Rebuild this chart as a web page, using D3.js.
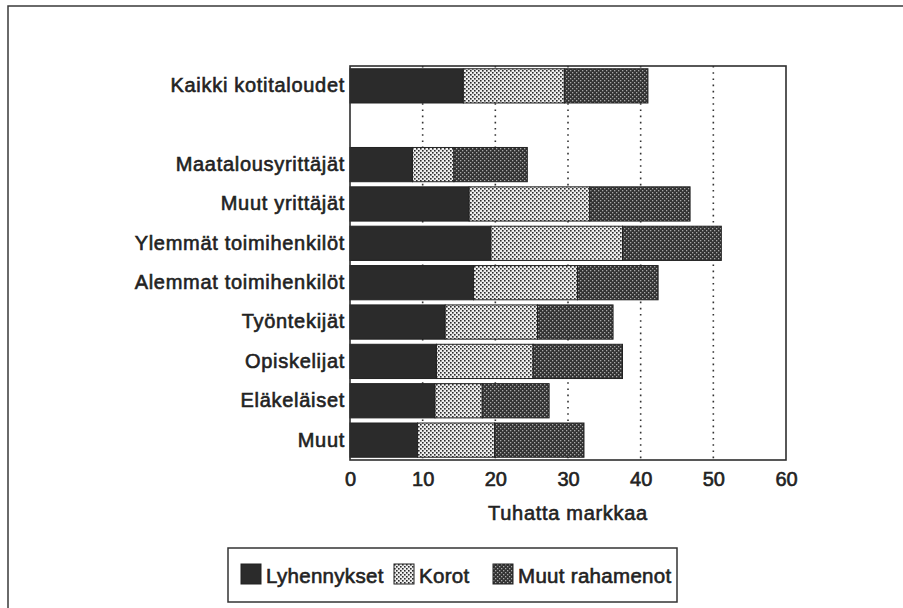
<!DOCTYPE html>
<html>
<head>
<meta charset="utf-8">
<script src="https://cdn.jsdelivr.net/npm/d3@7"></script>
<style>
  body { margin: 0; background: #fff; }
  text { font-family: 'Liberation Sans', Arial, sans-serif; }
</style>
</head>
<body>
<div id="chart"></div>
<script>
// household groups, top to bottom ('' is the blank gap row)
const categories = [
  'Kaikki kotitaloudet', '',
  'Maatalousyrittäjät', 'Muut yrittäjät', 'Ylemmät toimihenkilöt',
  'Alemmat toimihenkilöt', 'Työntekijät', 'Opiskelijat', 'Eläkeläiset', 'Muut'
];
const lyhennykset = [15.6, 0, 8.6, 16.4, 19.4, 17.0, 13.1, 11.9, 11.7, 9.3];
const korot = [13.9, 0, 5.7, 16.6, 18.1, 14.3, 12.7, 13.3, 6.5, 10.6];
const muutRahamenot = [11.5, 0, 10.1, 13.8, 13.6, 11.1, 10.4, 12.3, 9.2, 12.3];
const seriesNames = ['Lyhennykset', 'Korot', 'Muut rahamenot'];
const xTicks = [0, 10, 20, 30, 40, 50, 60];
const gridTicks = [10, 20, 30, 40, 50];
const axisTitle = 'Tuhatta markkaa';

const width = 903, height = 608;
const plot = { left: 350, right: 786, top: 66, bottom: 460 };
const ink = '#222';

const svg = d3.select('#chart').append('svg')
  .attr('width', width)
  .attr('height', height);

// fill patterns
const defs = svg.append('defs');
const pKorot = defs.append('pattern').attr('id', 'p-korot')
  .attr('patternUnits', 'userSpaceOnUse').attr('width', 4).attr('height', 4);
pKorot.append('rect').attr('width', 4).attr('height', 4).attr('fill', '#eeeeee');
pKorot.append('rect').attr('x', 0).attr('y', 0).attr('width', 1.6).attr('height', 1.6).attr('fill', '#2a2a2a');
pKorot.append('rect').attr('x', 2).attr('y', 2).attr('width', 1.6).attr('height', 1.6).attr('fill', '#2a2a2a');

const pMuut = defs.append('pattern').attr('id', 'p-muut')
  .attr('patternUnits', 'userSpaceOnUse').attr('width', 4).attr('height', 4);
pMuut.append('rect').attr('width', 4).attr('height', 4).attr('fill', '#323232');
pMuut.append('rect').attr('x', 0).attr('y', 0).attr('width', 1.3).attr('height', 1.3).attr('fill', '#a8a8a8');
pMuut.append('rect').attr('x', 2).attr('y', 2).attr('width', 1.3).attr('height', 1.3).attr('fill', '#a8a8a8');

const fills = ['#2b2b2b', 'url(#p-korot)', 'url(#p-muut)'];

// bold-ish text helper, the print looks heavier than a regular face
const inkText = sel => sel
  .attr('fill', ink)
  .attr('stroke', ink)
  .attr('stroke-width', 0.6)
  .attr('paint-order', 'stroke');

// outer frame (cropped at right and bottom)
svg.append('path')
  .attr('d', `M8,${height} L8,6 L${width},6`)
  .attr('fill', 'none')
  .attr('stroke', '#3a3a3a')
  .attr('stroke-width', 1.5);

const x = d3.scaleLinear().domain([0, 60]).range([plot.left, plot.right]);
const y = d3.scaleBand().domain(categories)
  .range([plot.top, plot.bottom])
  .paddingInner(0.13)
  .paddingOuter(0.07);

// dotted gridlines
svg.append('g')
  .selectAll('line')
  .data(gridTicks)
  .join('line')
  .attr('x1', d => x(d)).attr('x2', d => x(d))
  .attr('y1', plot.top).attr('y2', plot.bottom)
  .attr('stroke', '#333')
  .attr('stroke-width', 1.6)
  .attr('stroke-dasharray', '1.6,4.6');

// stacked bars
const rows = categories.map((c, i) => ({
  cat: c, Lyhennykset: lyhennykset[i], Korot: korot[i], 'Muut rahamenot': muutRahamenot[i]
})).filter(d => d.cat !== '');
const stacked = d3.stack().keys(seriesNames)(rows);

svg.append('g')
  .selectAll('g')
  .data(stacked)
  .join('g')
  .attr('fill', (d, i) => fills[i])
  .selectAll('rect')
  .data(d => d)
  .join('rect')
  .attr('x', d => x(d[0]))
  .attr('y', d => y(d.data.cat))
  .attr('width', d => x(d[1]) - x(d[0]))
  .attr('height', y.bandwidth())
  .attr('stroke', '#222')
  .attr('stroke-width', 1);

// plot frame
svg.append('rect')
  .attr('x', plot.left).attr('y', plot.top)
  .attr('width', plot.right - plot.left)
  .attr('height', plot.bottom - plot.top)
  .attr('fill', 'none')
  .attr('stroke', '#2e2e2e')
  .attr('stroke-width', 1.6);

// category axis
const yAxis = svg.append('g')
  .attr('transform', `translate(${plot.left},0)`)
  .call(d3.axisLeft(y).tickSize(0).tickPadding(5));
yAxis.select('.domain').remove();
yAxis.selectAll('text')
  .style('font-size', '20px')
  .style('letter-spacing', '0.7px')
  .call(inkText);

// value axis
const xAxis = svg.append('g')
  .attr('transform', `translate(0,${plot.bottom})`)
  .call(d3.axisBottom(x).tickValues(xTicks).tickSize(0).tickPadding(12));
xAxis.select('.domain').remove();
xAxis.selectAll('text')
  .style('font-size', '20px')
  .call(inkText);

svg.append('text')
  .text(axisTitle)
  .attr('x', (plot.left + plot.right) / 2)
  .attr('y', 520)
  .attr('text-anchor', 'middle')
  .style('font-size', '20px')
  .style('letter-spacing', '0.7px')
  .call(inkText);

// legend
const legend = svg.append('g');
legend.append('rect')
  .attr('x', 228).attr('y', 548)
  .attr('width', 449).attr('height', 54)
  .attr('fill', 'none')
  .attr('stroke', '#333')
  .attr('stroke-width', 1.5);

const legendSlots = [241, 394, 493];
const item = legend.selectAll('g.item')
  .data(seriesNames)
  .join('g')
  .attr('class', 'item')
  .attr('transform', (d, i) => `translate(${legendSlots[i]},564)`);
item.append('rect')
  .attr('width', 20).attr('height', 20)
  .attr('fill', (d, i) => fills[i])
  .attr('stroke', '#222')
  .attr('stroke-width', 1);
item.append('text')
  .text(d => d)
  .attr('x', 25)
  .attr('y', 19)
  .style('font-size', '20.5px')
  .style('letter-spacing', '0.3px')
  .call(inkText);
</script>
</body>
</html>
